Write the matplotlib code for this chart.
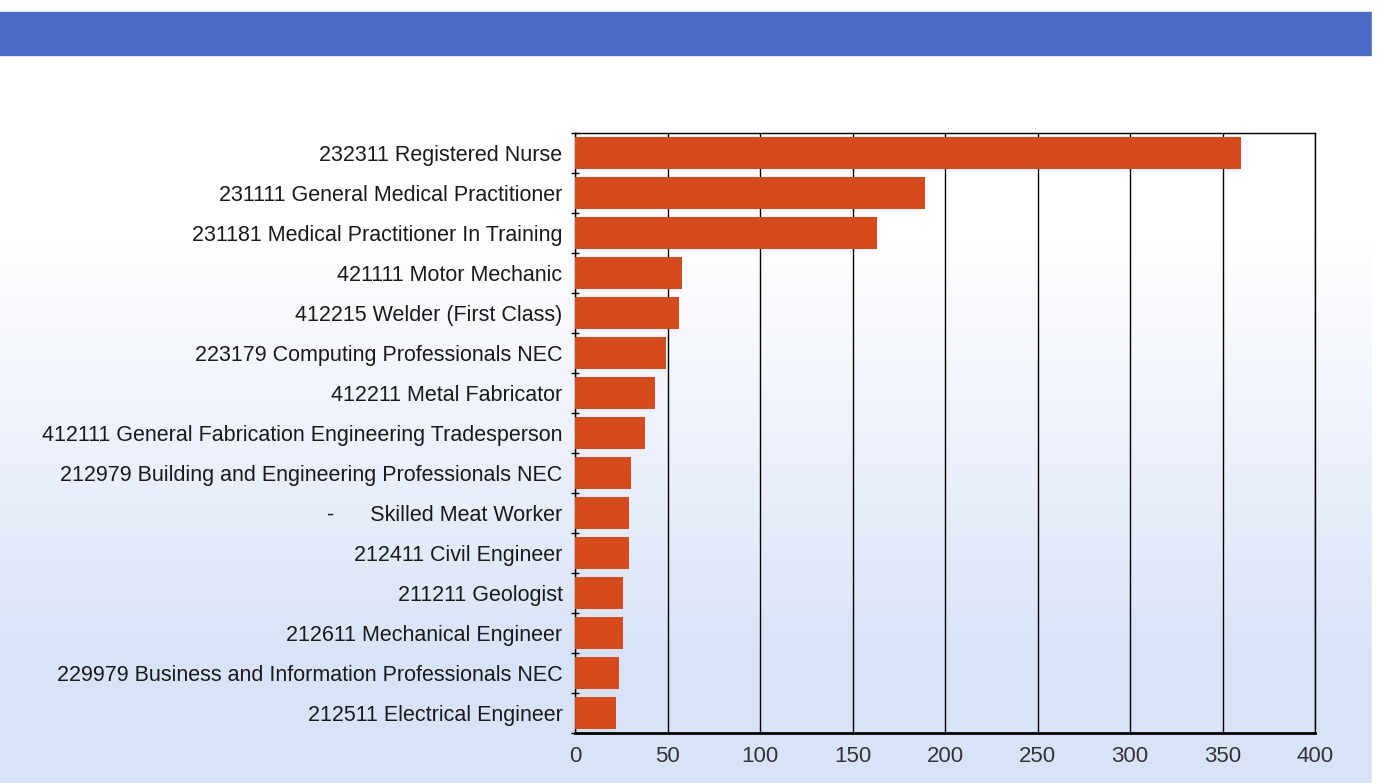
import matplotlib.pyplot as plt
import numpy as np
from matplotlib.colors import LinearSegmentedColormap

plt.rcParams['font.family'] = ['Liberation Sans', 'DejaVu Sans']

occupations = [
    '232311 Registered Nurse',
    '231111 General Medical Practitioner',
    '231181 Medical Practitioner In Training',
    '421111 Motor Mechanic',
    '412215 Welder (First Class)',
    '223179 Computing Professionals NEC',
    '412211 Metal Fabricator',
    '412111 General Fabrication Engineering Tradesperson',
    '212979 Building and Engineering Professionals NEC',
    '-      Skilled Meat Worker',
    '212411 Civil Engineer',
    '211211 Geologist',
    '212611 Mechanical Engineer',
    '229979 Business and Information Professionals NEC',
    '212511 Electrical Engineer',
]
counts = [360, 189, 163, 58, 56, 49, 43, 38, 30, 29, 29, 26, 26, 24, 22]
xticks = [0, 50, 100, 150, 200, 250, 300, 350, 400]

fig = plt.figure(figsize=(13.94, 7.83), dpi=100)

# slide background: white at top fading to pale blue
bg = fig.add_axes([0, 0, 1, 1], zorder=-10)
grad = np.linspace(0, 1, 256).reshape(-1, 1)
grad = np.clip((grad - 0.3) / 0.55, 0, 1)
cmap = LinearSegmentedColormap.from_list('bg', ['#ffffff', '#d9e3f7'])
bg.imshow(grad, aspect='auto', cmap=cmap, extent=[0, 1, 0, 1], origin='upper')
bg.axhspan(1 - 55 / 783, 1 - 12 / 783, color='#4a6bc6')
bg.axvspan(1372 / 1394, 1, color='white')
bg.set_xlim(0, 1)
bg.set_ylim(0, 1)
bg.axis('off')

ax = fig.add_axes([575 / 1394, 50 / 783, 740 / 1394, 600 / 783])
ax.patch.set_alpha(0)
y = np.arange(len(occupations))
ax.barh(y, counts, height=0.82, color='#d74a1b', zorder=3)
ax.set_ylim(len(occupations) - 0.5, -0.5)
ax.set_xlim(0, 400)
ax.set_xticks(xticks)
ax.grid(axis='x', color='black', linewidth=1, zorder=1)
ax.set_yticks(y)
ax.set_yticklabels(occupations, fontsize=15.5, color='#1a1a1a')
ax.set_yticks(np.arange(len(occupations) + 1) - 0.5, minor=True)
ax.tick_params(axis='y', which='major', length=0, pad=9)
ax.tick_params(axis='y', which='minor', length=6, direction='inout', width=1)
ax.tick_params(axis='x', length=0, labelsize=16, labelcolor='#333333', pad=9)
for side in ['top', 'right', 'left']:
    ax.spines[side].set_linewidth(1)
ax.spines['bottom'].set_linewidth(2)

fig.savefig('out.png', dpi=100)
